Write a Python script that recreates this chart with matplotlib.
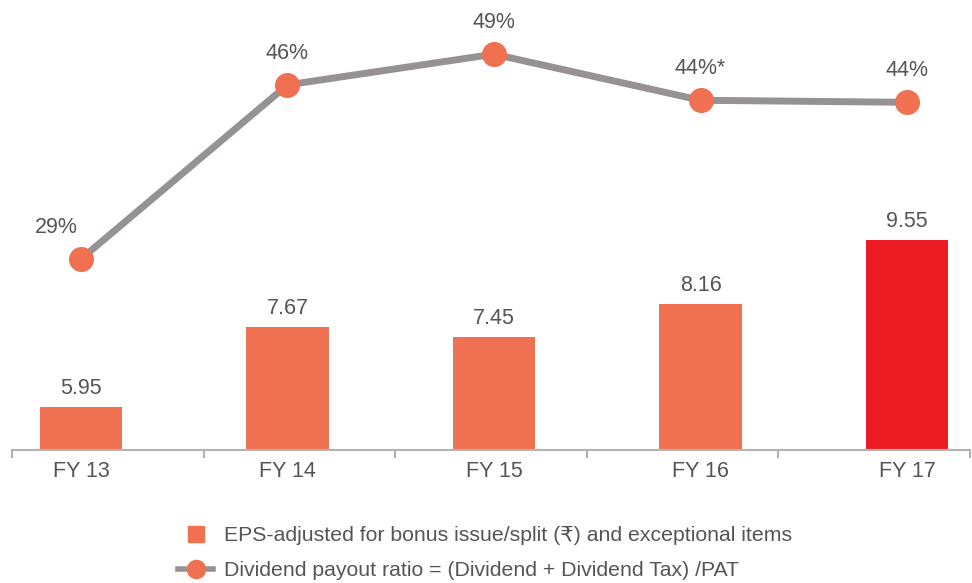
import numpy as np
import matplotlib.pyplot as plt
from matplotlib.lines import Line2D

plt.rcParams['font.family'] = ['Liberation Sans', 'DejaVu Sans']

# Datos del gráfico
anios = ['FY 13', 'FY 14', 'FY 15', 'FY 16', 'FY 17']
eps = [5.95, 7.67, 7.45, 8.16, 9.55]
payout = [29, 46, 49, 44.5, 44.3]
etiquetas_payout = ['29%', '46%', '49%', '44%*', '44%']

color_barra = '#F07052'
color_ultima = '#ED1C24'
color_linea = '#969293'
color_texto = '#555555'

fig = plt.figure(figsize=(9.72, 5.83), dpi=100)
ax = fig.add_axes([12 / 972, 133 / 583, 958 / 972, 450 / 583])

x = np.arange(len(anios))
colores = [color_barra] * (len(anios) - 1) + [color_ultima]
ax.bar(x, eps, width=0.40, color=colores, zorder=2)
for xi, v in zip(x, eps):
    ax.annotate(f'{v:.2f}', (xi, v), xytext=(0, 6), textcoords='offset points',
                ha='center', va='bottom', fontsize=15.5, color=color_texto)

ax.set_xlim(-0.334, 4.305)
ax.set_ylim(5.02, 14.72)

# Eje inferior
for s in ['top', 'right', 'left']:
    ax.spines[s].set_visible(False)
ax.spines['bottom'].set_color('#b3b3b3')
ax.spines['bottom'].set_linewidth(1.5)
ax.set_yticks([])
limites = ax.get_xlim()
ax.set_xticks(np.linspace(limites[0] + 0.002, limites[1] - 0.002, 6))
ax.set_xticklabels([])
ax.tick_params(axis='x', which='major', length=6, width=1.5, color='#b3b3b3')
ax.set_xticks(x, minor=True)
ax.set_xticklabels(anios, minor=True)
ax.tick_params(axis='x', which='minor', length=0, pad=8, labelsize=15.5,
               labelcolor=color_texto)

# Línea de payout en eje secundario
ax2 = ax.twinx()
ax2.set_ylim(10.35, 54.29)
ax2.axis('off')
ax2.plot(x, payout, color=color_linea, lw=5, zorder=3, solid_capstyle='butt',
         marker='o', markersize=17, markerfacecolor=color_barra,
         markeredgecolor=color_barra)
for i, (xi, v, t) in enumerate(zip(x, payout, etiquetas_payout)):
    dx = -18 if i == 0 else 0
    ax2.annotate(t, (xi, v), xytext=(dx, 15), textcoords='offset points',
                 ha='center', va='bottom', fontsize=15.5, color=color_texto)

# Leyenda
manejadores = [
    Line2D([], [], marker='s', ls='none', markersize=12, color=color_barra),
    Line2D([], [], color=color_linea, lw=4, marker='o', markersize=13,
           markerfacecolor=color_barra, markeredgecolor=color_barra),
]
textos = ['EPS-adjusted for bonus issue/split (\u20b9) and exceptional items',
          'Dividend payout ratio = (Dividend + Dividend Tax) /PAT']
fig.legend(manejadores, textos, loc='upper left', bbox_to_anchor=(178 / 972, 1 - 526 / 583),
           frameon=False, fontsize=15.3, labelcolor=color_texto, handlelength=1.65,
           handletextpad=0.5, labelspacing=0.75, borderpad=0, borderaxespad=0)

plt.savefig('out.png', dpi=100)
